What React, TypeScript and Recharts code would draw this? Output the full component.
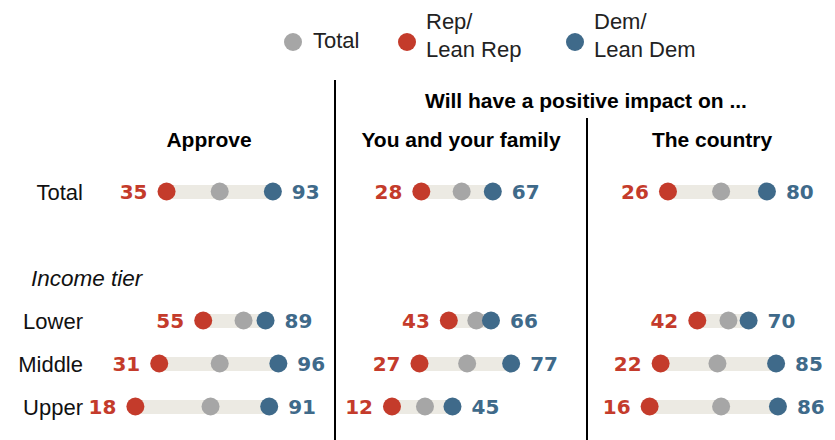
import React from "react";
import { ComposedChart, Bar, Line, XAxis, YAxis, LabelList } from "recharts";

const rows = ["Total", "", "Income tier", "Lower", "Middle", "Upper"];

const approveRep = [35, null, null, 55, 31, 18];
const approveTotal = [64, null, null, 77, 64, 59];
const approveDem = [93, null, null, 89, 96, 91];

const familyRep = [28, null, null, 43, 27, 12];
const familyTotal = [50, null, null, 58, 53, 30];
const familyDem = [67, null, null, 66, 77, 45];

const countryRep = [26, null, null, 42, 22, 16];
const countryTotal = [55, null, null, 59, 53, 55];
const countryDem = [80, null, null, 70, 85, 86];

const RED = "#C43B2B";
const BLUE = "#3F6A8A";
const GRAY = "#A6A6A6";
const BAR = "#ECEAE3";
const SANS = "'Liberation Sans', Arial, sans-serif";
const NUM = "'DejaVu Sans', sans-serif";

const buildData = (rep: any[], total: any[], dem: any[]) =>
  rows.map((row, i) => ({
    row,
    rep: rep[i],
    total: total[i],
    dem: dem[i],
    range: rep[i] == null ? null : [rep[i], dem[i]],
  }));

const RowTick = (props: any) => {
  const { y, payload } = props;
  if (!payload.value) return null;
  if (payload.value === "Income tier") {
    return (
      <text x={31} y={y} dy={8} textAnchor="start" fontStyle="italic" fontFamily={SANS} fontSize={22.5} fill="#111">
        {payload.value}
      </text>
    );
  }
  return (
    <text x={83} y={y} dy={8} textAnchor="end" fontFamily={SANS} fontSize={22} fill="#111">
      {payload.value}
    </text>
  );
};

const valueLabel = (side: "left" | "right", color: string) => (props: any) => {
  const { x, y, value } = props;
  if (value == null) return null;
  return (
    <text
      x={side === "left" ? x - 19 : x + 19}
      y={y}
      dy={7}
      textAnchor={side === "left" ? "end" : "start"}
      fontFamily={NUM}
      fontWeight="bold"
      fontSize={20}
      fill={color}
    >
      {value}
    </text>
  );
};

const Panel = ({
  data,
  width,
  left,
  right,
  showRows,
}: {
  data: any[];
  width: number;
  left: number;
  right: number;
  showRows?: boolean;
}) => (
  <ComposedChart
    width={width}
    height={440}
    data={data}
    layout="vertical"
    margin={{ top: 170, bottom: 12, left: showRows ? 0 : left, right }}
  >
    <XAxis type="number" domain={[0, 100]} hide />
    {showRows ? (
      <YAxis
        type="category"
        dataKey="row"
        width={left}
        axisLine={false}
        tickLine={false}
        tick={<RowTick />}
        interval={0}
      />
    ) : (
      <YAxis type="category" dataKey="row" hide />
    )}
    <Bar dataKey="range" fill={BAR} barSize={14} isAnimationActive={false} />
    <Line
      dataKey="total"
      stroke="none"
      dot={{ r: 9, fill: GRAY, stroke: "none" }}
      activeDot={false}
      isAnimationActive={false}
    />
    <Line
      dataKey="rep"
      stroke="none"
      dot={{ r: 9, fill: RED, stroke: "none" }}
      activeDot={false}
      isAnimationActive={false}
    >
      <LabelList dataKey="rep" content={valueLabel("left", RED)} />
    </Line>
    <Line
      dataKey="dem"
      stroke="none"
      dot={{ r: 9, fill: BLUE, stroke: "none" }}
      activeDot={false}
      isAnimationActive={false}
    >
      <LabelList dataKey="dem" content={valueLabel("right", BLUE)} />
    </Line>
  </ComposedChart>
);

export default function App() {
  return (
    <div style={{ position: "absolute", left: 0, top: 0, width: 835, height: 440, background: "#fff" }}>
      <div style={{ position: "absolute", left: 0, top: 0 }}>
        <Panel data={buildData(approveRep, approveTotal, approveDem)} width={335} left={102.4} right={49.3} showRows />
      </div>
      <div style={{ position: "absolute", left: 335, top: 0 }}>
        <Panel data={buildData(familyRep, familyTotal, familyDem)} width={252} left={35} right={33.7} />
      </div>
      <div style={{ position: "absolute", left: 587, top: 0 }}>
        <Panel data={buildData(countryRep, countryTotal, countryDem)} width={248} left={33.3} right={31.4} />
      </div>
      <svg
        width={835}
        height={440}
        style={{ position: "absolute", left: 0, top: 0, pointerEvents: "none" }}
        fontFamily={SANS}
      >
        {/* legend */}
        <circle cx={293} cy={42} r={9} fill={GRAY} />
        <text x={313} y={48} fontSize={22} fill="#222">Total</text>
        <circle cx={407} cy={42} r={9} fill={RED} />
        <text x={426} y={29} fontSize={22} fill="#222">Rep/</text>
        <text x={426} y={57} fontSize={22} fill="#222">Lean Rep</text>
        <circle cx={575} cy={42} r={9} fill={BLUE} />
        <text x={594} y={29} fontSize={22} fill="#222">Dem/</text>
        <text x={594} y={57} fontSize={22} fill="#222">Lean Dem</text>

        {/* headers */}
        <text x={586} y={108} textAnchor="middle" fontWeight="bold" fontSize={21} fill="#000">
          Will have a positive impact on ...
        </text>
        <text x={209} y={147} textAnchor="middle" fontWeight="bold" fontSize={21} fill="#000">
          Approve
        </text>
        <text x={461} y={147} textAnchor="middle" fontWeight="bold" fontSize={21} fill="#000">
          You and your family
        </text>
        <text x={712} y={147} textAnchor="middle" fontWeight="bold" fontSize={21} fill="#000">
          The country
        </text>

        {/* dividers */}
        <line x1={335} y1={80} x2={335} y2={440} stroke="#000" strokeWidth={2} />
        <line x1={587} y1={118} x2={587} y2={440} stroke="#000" strokeWidth={2} />
      </svg>
    </div>
  );
}
